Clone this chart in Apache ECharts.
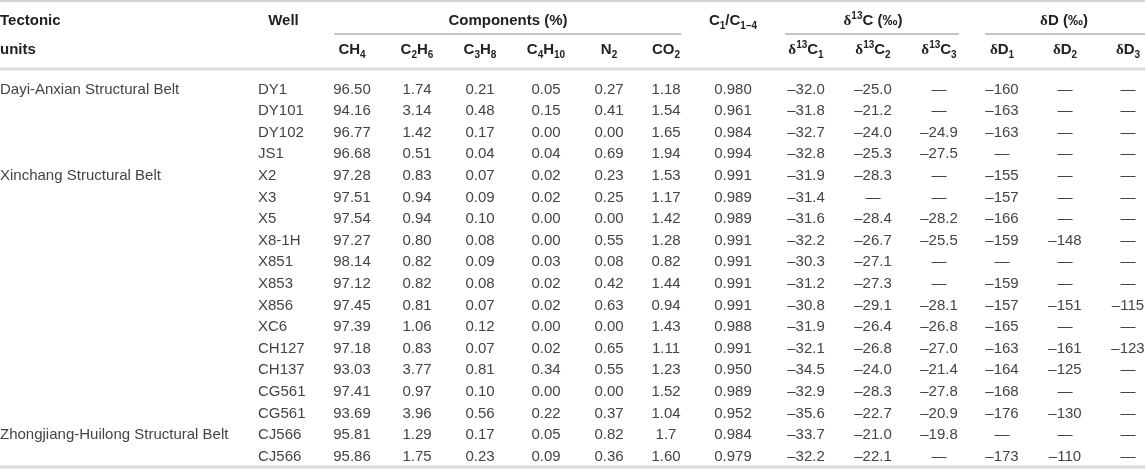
<!DOCTYPE html>
<html>
<head>
<meta charset="utf-8">
<script src="https://cdn.jsdelivr.net/npm/echarts@6/dist/echarts.min.js"></script>
<style>
  html, body { margin: 0; padding: 0; background: #fff; }
  #main { width: 1145px; height: 475px; }
</style>
</head>
<body>
<div id="main"></div>
<script>
// table values, one array per column (null = dash)
var units = ['Dayi-Anxian Structural Belt', '', '', '', 'Xinchang Structural Belt', '', '', '', '', '', '', '', '', '', '', '', 'Zhongjiang-Huilong Structural Belt', ''];
var wells = ['DY1', 'DY101', 'DY102', 'JS1', 'X2', 'X3', 'X5', 'X8-1H', 'X851', 'X853', 'X856', 'XC6', 'CH127', 'CH137', 'CG561', 'CG561', 'CJ566', 'CJ566'];
var ch4 = ['96.50', '94.16', '96.77', '96.68', '97.28', '97.51', '97.54', '97.27', '98.14', '97.12', '97.45', '97.39', '97.18', '93.03', '97.41', '93.69', '95.81', '95.86'];
var c2h6 = ['1.74', '3.14', '1.42', '0.51', '0.83', '0.94', '0.94', '0.80', '0.82', '0.82', '0.81', '1.06', '0.83', '3.77', '0.97', '3.96', '1.29', '1.75'];
var c3h8 = ['0.21', '0.48', '0.17', '0.04', '0.07', '0.09', '0.10', '0.08', '0.09', '0.08', '0.07', '0.12', '0.07', '0.81', '0.10', '0.56', '0.17', '0.23'];
var c4h10 = ['0.05', '0.15', '0.00', '0.04', '0.02', '0.02', '0.00', '0.00', '0.03', '0.02', '0.02', '0.00', '0.02', '0.34', '0.00', '0.22', '0.05', '0.09'];
var n2 = ['0.27', '0.41', '0.00', '0.69', '0.23', '0.25', '0.00', '0.55', '0.08', '0.42', '0.63', '0.00', '0.65', '0.55', '0.00', '0.37', '0.82', '0.36'];
var co2 = ['1.18', '1.54', '1.65', '1.94', '1.53', '1.17', '1.42', '1.28', '0.82', '1.44', '0.94', '1.43', '1.11', '1.23', '1.52', '1.04', '1.7', '1.60'];
var dryness = ['0.980', '0.961', '0.984', '0.994', '0.991', '0.989', '0.989', '0.991', '0.991', '0.991', '0.991', '0.988', '0.991', '0.950', '0.989', '0.952', '0.984', '0.979'];
var d13C1 = [-32.0, -31.8, -32.7, -32.8, -31.9, -31.4, -31.6, -32.2, -30.3, -31.2, -30.8, -31.9, -32.1, -34.5, -32.9, -35.6, -33.7, -32.2];
var d13C2 = [-25.0, -21.2, -24.0, -25.3, -28.3, null, -28.4, -26.7, -27.1, -27.3, -29.1, -26.4, -26.8, -24.0, -28.3, -22.7, -21.0, -22.1];
var d13C3 = [null, null, -24.9, -27.5, null, null, -28.2, -25.5, null, null, -28.1, -26.8, -27.0, -21.4, -27.8, -20.9, -19.8, null];
var dD1 = [-160, -163, -163, null, -155, -157, -166, -159, null, -159, -157, -165, -163, -164, -168, -176, null, -173];
var dD2 = [null, null, null, null, null, null, null, -148, null, null, -151, null, -161, -125, null, -130, null, -110];
var dD3 = [null, null, null, null, null, null, null, null, null, null, -115, null, -123, null, null, null, null, null];

// header labels ({s|..} subscript, {p|..} superscript, {d|..} delta)
var groupHeads = ['Components (%)', '{d|δ}{p|13}C (‰)', '{d|δ}D (‰)'];
var colHeads = ['CH{s|4}', 'C{s|2}H{s|6}', 'C{s|3}H{s|8}', 'C{s|4}H{s|10}', 'N{s|2}', 'CO{s|2}',
  '{d|δ}{p|13}C{s|1}', '{d|δ}{p|13}C{s|2}', '{d|δ}{p|13}C{s|3}', '{d|δ}D{s|1}', '{d|δ}D{s|2}', '{d|δ}D{s|3}'];

// layout (pixels)
var FONT = 'Liberation Sans';
var ROW0 = 89.5, PITCH = 21.6;
var WELL_X = 258;
var numX = [352, 417, 480, 546, 609, 666, 733, 806, 873, 939, 1002, 1065, 1128];

function rowY(i) { return ROW0 + i * PITCH; }

function fmtIso(v, d) {
  if (v === null) return '—';
  return v.toFixed(d).replace('-', '–');
}

var cells = [];
function addCell(x, y, text, align, bold) {
  cells.push({ value: [x, y], text: text, align: align, bold: !!bold });
}

// header
addCell(0, 21, 'Tectonic', 'left', true);
addCell(0, 50, 'units', 'left', true);
addCell(283.5, 21, 'Well', 'center', true);
addCell(508, 21, groupHeads[0], 'center', true);
addCell(733, 21, 'C{s|1}/C{s|1–4}', 'center', true);
addCell(873, 21, groupHeads[1], 'center', true);
addCell(1064, 21, groupHeads[2], 'center', true);
var headCols = [0, 1, 2, 3, 4, 5, 7, 8, 9, 10, 11, 12];
headCols.forEach(function (c, k) {
  addCell(numX[c], 50, colHeads[k], 'center', true);
});

// body
var textCols = [ch4, c2h6, c3h8, c4h10, n2, co2, dryness];
wells.forEach(function (w, i) {
  var y = rowY(i);
  if (units[i]) addCell(0, y, units[i], 'left');
  addCell(WELL_X, y, w, 'left');
  textCols.forEach(function (arr, c) { addCell(numX[c], y, arr[i], 'center'); });
  addCell(numX[7], y, fmtIso(d13C1[i], 1), 'center');
  addCell(numX[8], y, fmtIso(d13C2[i], 1), 'center');
  addCell(numX[9], y, fmtIso(d13C3[i], 1), 'center');
  addCell(numX[10], y, fmtIso(dD1[i], 0), 'center');
  addCell(numX[11], y, fmtIso(dD2[i], 0), 'center');
  addCell(numX[12], y, fmtIso(dD3[i], 0), 'center');
});

// rules: [x1, y, x2, width, color]
var rules = [
  [0, 1, 1145, 2, '#d4d4d4'],
  [334, 34, 681, 1.2, '#8c8c8c'],
  [785, 34, 959, 1.2, '#8c8c8c'],
  [985, 34, 1145, 1.2, '#8c8c8c'],
  [0, 69, 1145, 3, '#dcdcdc'],
  [0, 467, 1145, 3.5, '#dcdcdc']
];

function richFor(bold) {
  var w = bold ? 'bold' : 'normal';
  var fill = bold ? '#222' : '#444';
  return {
    s: { fontSize: 10, fontWeight: w, fontFamily: FONT, lineHeight: 10, verticalAlign: 'bottom', fill: fill },
    p: { fontSize: 10, fontWeight: w, fontFamily: FONT, lineHeight: 10, verticalAlign: 'top', fill: fill },
    d: { fontSize: 15, fontWeight: w, fontFamily: 'Liberation Serif', lineHeight: 20, fill: fill }
  };
}

function renderCell(params, api) {
  var c = cells[params.dataIndex];
  var p = api.coord([api.value(0), api.value(1)]);
  return {
    type: 'text',
    x: p[0],
    y: p[1],
    style: {
      text: c.text,
      fontSize: 15,
      fontFamily: FONT,
      fontWeight: c.bold ? 'bold' : 'normal',
      lineHeight: 20,
      fill: c.bold ? '#222' : '#444',
      align: c.align,
      verticalAlign: 'middle',
      rich: richFor(c.bold)
    }
  };
}

function renderRule(params, api) {
  var r = rules[params.dataIndex];
  var a = api.coord([r[0], r[1]]);
  var b = api.coord([r[2], r[1]]);
  return {
    type: 'line',
    shape: { x1: a[0], y1: a[1], x2: b[0], y2: b[1] },
    style: { stroke: r[4], lineWidth: r[3] }
  };
}

var chart = echarts.init(document.getElementById('main'), null, { renderer: 'canvas' });
chart.setOption({
  animation: false,
  backgroundColor: '#fff',
  grid: { left: 0, right: 0, top: 0, bottom: 0 },
  xAxis: { type: 'value', min: 0, max: 1145, show: false },
  yAxis: { type: 'value', min: 0, max: 475, inverse: true, show: false },
  series: [
    {
      type: 'custom',
      silent: true,
      clip: false,
      data: rules.map(function (r) { return [r[0], r[1]]; }),
      renderItem: renderRule
    },
    {
      type: 'custom',
      silent: true,
      clip: false,
      data: cells.map(function (c) { return c.value; }),
      renderItem: renderCell
    }
  ]
});
</script>
</body>
</html>
